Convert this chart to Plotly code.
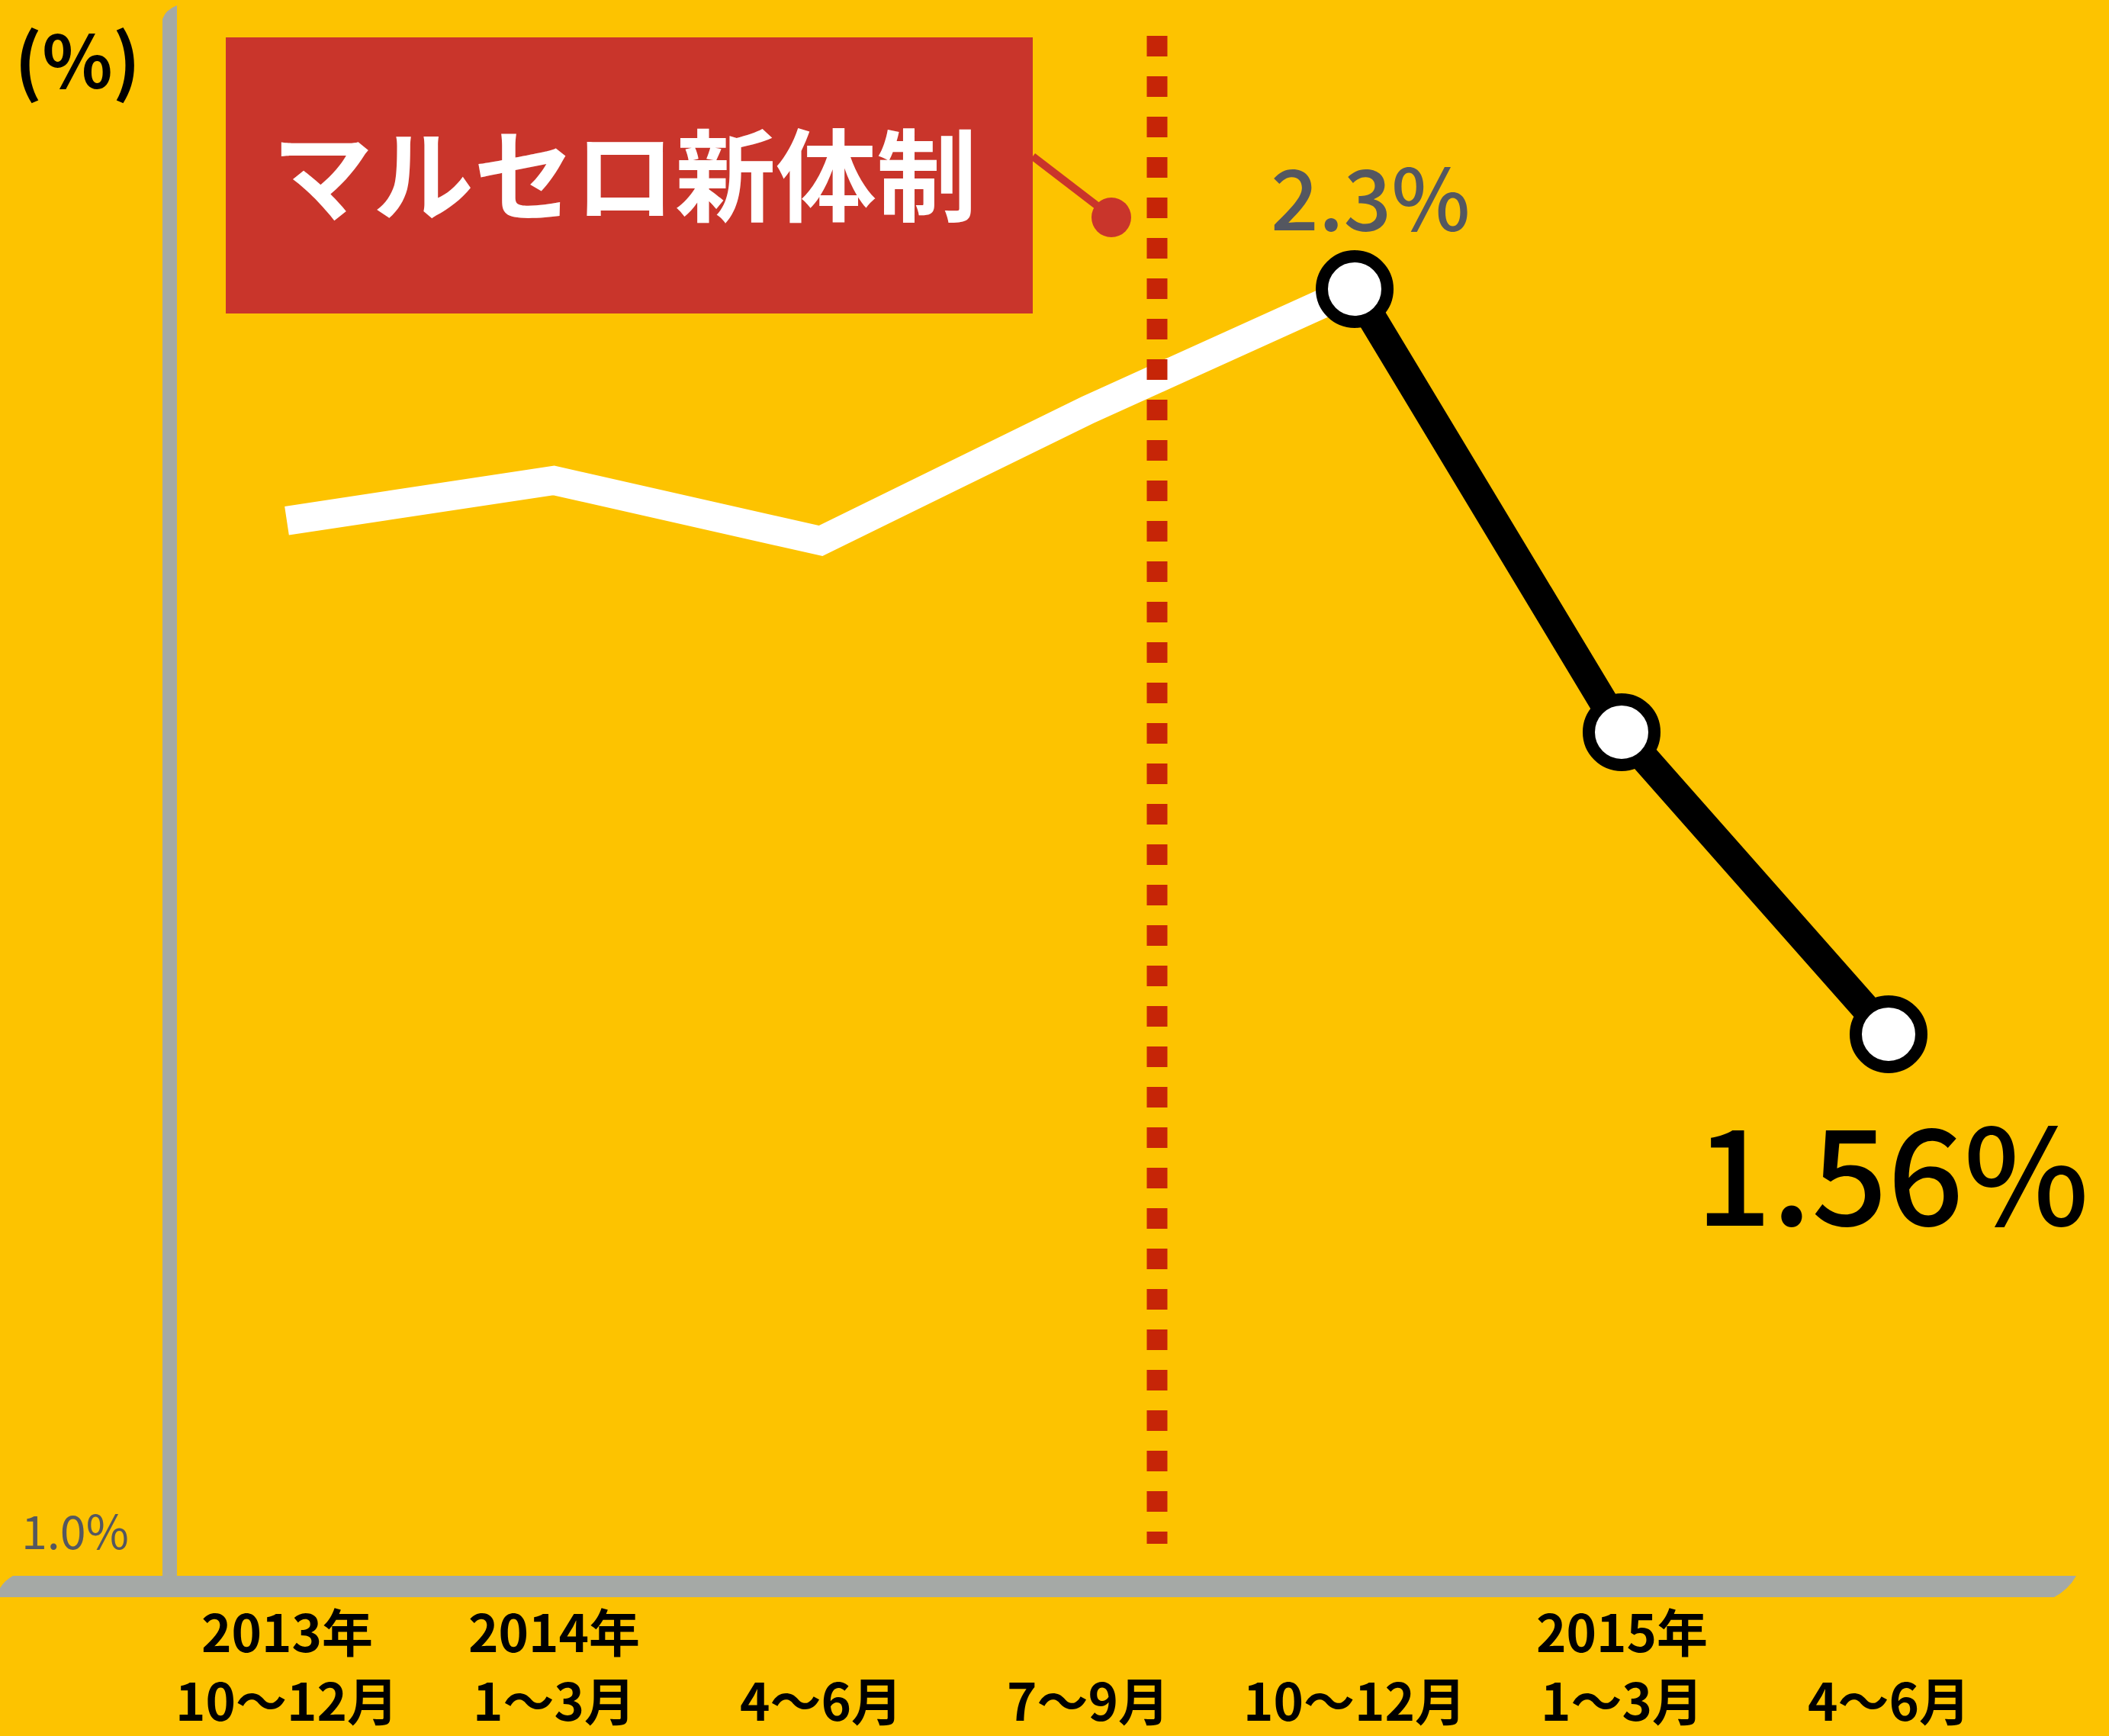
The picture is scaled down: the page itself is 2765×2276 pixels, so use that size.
import plotly.graph_objects as go

# Quarterly rate (%), Oct-Dec 2013 through Apr-Jun 2015
year_labels = ["2013年", "2014年", "", "", "", "2015年", ""]
period_labels = ["10〜12月", "1〜3月", "4〜6月", "7〜9月", "10〜12月", "1〜3月", "4〜6月"]
rate = [2.07, 2.11, 2.05, 2.18, 2.30, 1.86, 1.56]

before_idx = [0, 1, 2, 3, 4]     # white segment
after_idx = [4, 5, 6]            # black segment with markers
new_regime_x = 3.26              # position of the dotted divider
baseline_label = "1.0%"
unit_label = "(%)"
regime_label = "マルセロ新体制"

W, H = 2765, 2276
BG = "#FDC300"
GRAY = "#A5A9A6"
RED_BOX = "#C9352B"
RED_DOT = "#C62507"
TEXT_GRAY = "#545760"
FONT = "Noto Sans CJK JP"


def px(x):
    return x / W


def py(y):
    return 1 - y / H


fig = go.Figure()

fig.add_trace(go.Scatter(
    x=before_idx, y=[rate[i] for i in before_idx],
    mode="lines", line=dict(color="white", width=38),
    hoverinfo="skip", showlegend=False,
))
fig.add_trace(go.Scatter(
    x=after_idx, y=[rate[i] for i in after_idx],
    mode="lines+markers", line=dict(color="black", width=38),
    marker=dict(size=86, color="white", line=dict(color="black", width=16)),
    hoverinfo="skip", showlegend=False,
))

shapes = []
# vertical axis bar with slanted top
shapes.append(dict(
    type="path", xref="paper", yref="paper", layer="below",
    path=(f"M {px(213)},{py(2066)} L {px(213)},{py(25)} "
          f"Q {px(217)},{py(13)} {px(232)},{py(7)} L {px(232)},{py(2066)} Z"),
    fillcolor=GRAY, line=dict(width=0),
))
# horizontal axis bar with slanted ends
shapes.append(dict(
    type="path", xref="paper", yref="paper", layer="below",
    path=(f"M {px(17)},{py(2066)} L {px(2722)},{py(2066)} "
          f"Q {px(2712)},{py(2084)} {px(2693)},{py(2094)} L {px(0)},{py(2094)} "
          f"L {px(0)},{py(2082)} Q {px(6)},{py(2072)} {px(17)},{py(2066)} Z"),
    fillcolor=GRAY, line=dict(width=0),
))
# label box
shapes.append(dict(
    type="rect", xref="paper", yref="paper", layer="below",
    x0=px(296), x1=px(1354), y0=py(49), y1=py(411),
    fillcolor=RED_BOX, line=dict(width=0),
))
# connector from box to the divider
shapes.append(dict(
    type="line", xref="paper", yref="paper", layer="below",
    x0=px(1354), y0=py(205), x1=px(1457), y1=py(284),
    line=dict(color=RED_BOX, width=10),
))
shapes.append(dict(
    type="circle", xref="paper", yref="paper", layer="below",
    x0=px(1431), x1=px(1483), y0=py(259), y1=py(311),
    fillcolor=RED_BOX, line=dict(width=0),
))
# dotted divider
shapes.append(dict(
    type="line", xref="x", yref="paper", layer="above",
    x0=new_regime_x, x1=new_regime_x, y0=py(47), y1=py(2024),
    line=dict(color=RED_DOT, width=27, dash="27px,26px"),
))

annotations = [
    dict(text=f"<b>{unit_label}</b>", x=px(101), y=py(74), xref="paper", yref="paper",
         showarrow=False, xanchor="center", yanchor="middle",
         font=dict(family=FONT, size=96, color="black")),
    dict(text=f"<b>{regime_label}</b>", x=px(819), y=py(222), xref="paper", yref="paper",
         showarrow=False, xanchor="center", yanchor="middle",
         font=dict(family=FONT, size=132, color="white")),
    dict(text=baseline_label, x=px(98), y=py(2004), xref="paper", yref="paper",
         showarrow=False, xanchor="center", yanchor="middle",
         font=dict(family=FONT, size=61, color=TEXT_GRAY)),
    dict(text=f"{rate[4]:.1f}%", x=4, y=py(254), xref="x", yref="paper", xshift=20,
         showarrow=False, xanchor="center", yanchor="middle",
         font=dict(family=FONT, size=110, color=TEXT_GRAY, weight=500)),
    dict(text=f"{rate[6]:.2f}%", x=px(2481), y=py(1530), xref="paper", yref="paper",
         showarrow=False, xanchor="center", yanchor="middle",
         font=dict(family=FONT, size=175, color="black", weight=500)),
]

for i, (yr, per) in enumerate(zip(year_labels, period_labels)):
    if yr:
        annotations.append(dict(
            text=f"<b>{yr}</b>", x=i, y=py(2136), xref="x", yref="paper",
            showarrow=False, xanchor="center", yanchor="middle",
            font=dict(family=FONT, size=67, color="black")))
    annotations.append(dict(
        text=f"<b>{per}</b>", x=i, y=py(2226), xref="x", yref="paper",
        showarrow=False, xanchor="center", yanchor="middle",
        font=dict(family=FONT, size=67, color="black")))

x0 = -376 / 350
y_top = 2.30 + 379 / 1320.3
y_bot = y_top - H / 1320.3

fig.update_layout(
    width=W, height=H,
    margin=dict(l=0, r=0, t=0, b=0),
    paper_bgcolor=BG, plot_bgcolor=BG,
    xaxis=dict(range=[x0, x0 + W / 350], domain=[0, 1], showgrid=False,
               zeroline=False, showticklabels=False, showline=False, ticks=""),
    yaxis=dict(range=[y_bot, y_top], domain=[0, 1], showgrid=False,
               zeroline=False, showticklabels=False, showline=False, ticks=""),
    shapes=shapes,
    annotations=annotations,
)

fig.write_html("out.html")
